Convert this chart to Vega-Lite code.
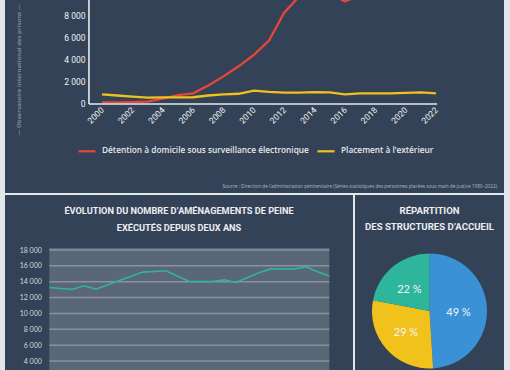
{
  "$schema": "https://vega.github.io/schema/vega-lite/v6.json",
  "background": "#e3e6ea",
  "padding": {"left": 5, "top": 0, "right": 6, "bottom": 0},
  "spacing": 2,
  "resolve": {"scale": {"color": "independent"}, "legend": {"color": "independent"}},
  "config": {
    "font": "Open Sans",
    "view": {"stroke": null, "fill": "#344257"},
    "axis": {"grid": false, "ticks": false, "domain": false, "labelFlush": false, "labelOverlap": false}
  },
  "datasets": {
    "top": [
      {"year": 2000, "serie": "Détention à domicile sous surveillance électronique", "value": 100},
      {"year": 2001, "serie": "Détention à domicile sous surveillance électronique", "value": 110},
      {"year": 2002, "serie": "Détention à domicile sous surveillance électronique", "value": 130},
      {"year": 2003, "serie": "Détention à domicile sous surveillance électronique", "value": 180},
      {"year": 2004, "serie": "Détention à domicile sous surveillance électronique", "value": 450},
      {"year": 2005, "serie": "Détention à domicile sous surveillance électronique", "value": 760},
      {"year": 2006, "serie": "Détention à domicile sous surveillance électronique", "value": 930},
      {"year": 2007, "serie": "Détention à domicile sous surveillance électronique", "value": 1650},
      {"year": 2008, "serie": "Détention à domicile sous surveillance électronique", "value": 2480},
      {"year": 2009, "serie": "Détention à domicile sous surveillance électronique", "value": 3400},
      {"year": 2010, "serie": "Détention à domicile sous surveillance électronique", "value": 4450},
      {"year": 2011, "serie": "Détention à domicile sous surveillance électronique", "value": 5750},
      {"year": 2012, "serie": "Détention à domicile sous surveillance électronique", "value": 8300},
      {"year": 2013, "serie": "Détention à domicile sous surveillance électronique", "value": 9800},
      {"year": 2014, "serie": "Détention à domicile sous surveillance électronique", "value": 10300},
      {"year": 2015, "serie": "Détention à domicile sous surveillance électronique", "value": 10100},
      {"year": 2016, "serie": "Détention à domicile sous surveillance électronique", "value": 9330},
      {"year": 2017, "serie": "Détention à domicile sous surveillance électronique", "value": 9900},
      {"year": 2018, "serie": "Détention à domicile sous surveillance électronique", "value": 10700},
      {"year": 2019, "serie": "Détention à domicile sous surveillance électronique", "value": 10800},
      {"year": 2020, "serie": "Détention à domicile sous surveillance électronique", "value": 10600},
      {"year": 2021, "serie": "Détention à domicile sous surveillance électronique", "value": 12600},
      {"year": 2022, "serie": "Détention à domicile sous surveillance électronique", "value": 14500},
      {"year": 2000, "serie": "Placement à l’extérieur", "value": 840},
      {"year": 2001, "serie": "Placement à l’extérieur", "value": 730},
      {"year": 2002, "serie": "Placement à l’extérieur", "value": 620},
      {"year": 2003, "serie": "Placement à l’extérieur", "value": 530},
      {"year": 2004, "serie": "Placement à l’extérieur", "value": 560},
      {"year": 2005, "serie": "Placement à l’extérieur", "value": 560},
      {"year": 2006, "serie": "Placement à l’extérieur", "value": 570},
      {"year": 2007, "serie": "Placement à l’extérieur", "value": 730},
      {"year": 2008, "serie": "Placement à l’extérieur", "value": 830},
      {"year": 2009, "serie": "Placement à l’extérieur", "value": 890},
      {"year": 2010, "serie": "Placement à l’extérieur", "value": 1180},
      {"year": 2011, "serie": "Placement à l’extérieur", "value": 1060},
      {"year": 2012, "serie": "Placement à l’extérieur", "value": 1000},
      {"year": 2013, "serie": "Placement à l’extérieur", "value": 1000},
      {"year": 2014, "serie": "Placement à l’extérieur", "value": 1040},
      {"year": 2015, "serie": "Placement à l’extérieur", "value": 1010},
      {"year": 2016, "serie": "Placement à l’extérieur", "value": 840},
      {"year": 2017, "serie": "Placement à l’extérieur", "value": 920},
      {"year": 2018, "serie": "Placement à l’extérieur", "value": 920},
      {"year": 2019, "serie": "Placement à l’extérieur", "value": 930},
      {"year": 2020, "serie": "Placement à l’extérieur", "value": 980},
      {"year": 2021, "serie": "Placement à l’extérieur", "value": 1010},
      {"year": 2022, "serie": "Placement à l’extérieur", "value": 930}
    ],
    "frame": [
      {"year": 1999.14, "year2": 2022.07, "value": -40, "value2": -40},
      {"year": 1999.14, "year2": 1999.14, "value": -40, "value2": 9461}
    ],
    "amenag": [
      {"i": 0, "value": 13265}, {"i": 1, "value": 13150}, {"i": 2, "value": 13050},
      {"i": 3, "value": 13490}, {"i": 4, "value": 13050}, {"i": 5, "value": 13620},
      {"i": 6, "value": 14165}, {"i": 7, "value": 14700}, {"i": 8, "value": 15215},
      {"i": 9, "value": 15290}, {"i": 10, "value": 15390}, {"i": 11, "value": 14700},
      {"i": 12, "value": 14025}, {"i": 13, "value": 14025}, {"i": 14, "value": 14025},
      {"i": 15, "value": 14250}, {"i": 16, "value": 13900}, {"i": 17, "value": 14545},
      {"i": 18, "value": 15150}, {"i": 19, "value": 15620}, {"i": 20, "value": 15620},
      {"i": 21, "value": 15620}, {"i": 22, "value": 15875}, {"i": 23, "value": 15250},
      {"i": 24, "value": 14735}
    ],
    "plotbg": [{"i": 0, "i2": 24, "value": 0, "value2": 18250}],
    "grid": [
      {"i": 0, "i2": 24, "value": 4000}, {"i": 0, "i2": 24, "value": 6000},
      {"i": 0, "i2": 24, "value": 8000}, {"i": 0, "i2": 24, "value": 10000},
      {"i": 0, "i2": 24, "value": 12000}, {"i": 0, "i2": 24, "value": 14000},
      {"i": 0, "i2": 24, "value": 16000}, {"i": 0, "i2": 24, "value": 18000}
    ],
    "panel": [{"px": 0, "px2": 1, "py": 0, "py2": 1}],
    "pie": [
      {"cat": "Structure A", "pct": 49, "ord": 1, "label": "49 %"},
      {"cat": "Structure B", "pct": 29, "ord": 2, "label": "29 %"},
      {"cat": "Structure C", "pct": 22, "ord": 3, "label": "22 %"}
    ]
  },
  "vconcat": [
    {
      "width": 499,
      "height": 193,
      "title": {
        "text": "Source : Direction de l’administration pénitentiaire (Séries statistiques des personnes placées sous main de justice 1980–2022)",
        "orient": "bottom", "anchor": "end", "frame": "group", "offset": -9, "dx": -7,
        "font": "Open Sans", "fontSize": 4.7, "fontWeight": "normal", "color": "#b3bac4"
      },
      "layer": [
        {
          "data": {"name": "top"},
          "mark": {"type": "line", "clip": true, "strokeWidth": 2.3},
          "encoding": {
            "x": {
              "field": "year", "type": "quantitative",
              "scale": {"domain": [1993.61, 2026.48], "nice": false, "zero": false},
              "axis": {
                "values": [2000, 2002, 2004, 2006, 2008, 2010, 2012, 2014, 2016, 2018, 2020, 2022],
                "format": "d", "offset": -89, "labelAngle": -45, "labelAlign": "right", "labelBaseline": "middle",
                "labelPadding": 4, "labelFont": "Roboto", "labelFontSize": 8.5, "labelColor": "#f2f2f2", "title": null
              }
            },
            "y": {
              "field": "value", "type": "quantitative",
              "scale": {"domain": [-8181, 9461], "nice": false, "zero": false},
              "axis": {
                "values": [0, 2000, 4000, 6000, 8000], "offset": -84, "labelPadding": 4,
                "labelExpr": "replace(format(datum.value, ','), ',', ' ')",
                "labelFont": "Roboto", "labelFontSize": 8.5, "labelColor": "#f2f2f2",
                "title": "— Observatoire international des prisons —",
                "titleX": -71, "titleY": 135, "titleAngle": -90, "titleAlign": "left", "titleBaseline": "middle",
                "titleFont": "Open Sans", "titleFontSize": 6, "titleFontWeight": "bold", "titleColor": "#7d8897"
              }
            },
            "color": {
              "field": "serie", "type": "nominal",
              "scale": {"domain": ["Détention à domicile sous surveillance électronique", "Placement à l’extérieur"], "range": ["#e9463a", "#f1c21b"]},
              "legend": {
                "orient": "none", "legendX": 72, "legendY": 141, "direction": "horizontal", "title": null,
                "symbolType": "stroke", "symbolStrokeWidth": 2.2, "symbolSize": 290,
                "labelFont": "Open Sans", "labelFontSize": 8.3, "labelFontWeight": 600, "labelColor": "#e8e8e8",
                "labelLimit": 400, "columnPadding": 4, "labelOffset": 5
              }
            }
          }
        },
        {
          "data": {"name": "frame"},
          "mark": {"type": "rule", "color": "#e6e9ee", "strokeWidth": 1.6, "clip": true},
          "encoding": {
            "x": {
              "field": "year", "type": "quantitative",
              "scale": {"domain": [1993.61, 2026.48], "nice": false, "zero": false},
              "axis": {
                "values": [2000, 2002, 2004, 2006, 2008, 2010, 2012, 2014, 2016, 2018, 2020, 2022],
                "format": "d", "offset": -89, "labelAngle": -45, "labelAlign": "right", "labelBaseline": "middle",
                "labelPadding": 4, "labelFont": "Roboto", "labelFontSize": 8.5, "labelColor": "#f2f2f2", "title": null
              }
            },
            "x2": {"field": "year2"},
            "y": {
              "field": "value", "type": "quantitative",
              "scale": {"domain": [-8181, 9461], "nice": false, "zero": false},
              "axis": {
                "values": [0, 2000, 4000, 6000, 8000], "offset": -84, "labelPadding": 4,
                "labelExpr": "replace(format(datum.value, ','), ',', ' ')",
                "labelFont": "Roboto", "labelFontSize": 8.5, "labelColor": "#f2f2f2",
                "title": "— Observatoire international des prisons —",
                "titleX": -71, "titleY": 135, "titleAngle": -90, "titleAlign": "left", "titleBaseline": "middle",
                "titleFont": "Open Sans", "titleFontSize": 6, "titleFontWeight": "bold", "titleColor": "#7d8897"
              }
            },
            "y2": {"field": "value2"}
          }
        }
      ]
    },
    {
      "hconcat": [
        {
          "width": 348,
          "height": 175,
          "title": {
            "text": ["ÉVOLUTION DU NOMBRE D’AMÉNAGEMENTS DE PEINE", "EXÉCUTÉS DEPUIS DEUX ANS"],
            "orient": "top", "anchor": "middle", "frame": "group", "offset": -38, "baseline": "top",
            "font": "Roboto", "fontSize": 9.2, "fontWeight": "bold",
            "color": "#eceef1", "lineHeight": 17
          },
          "layer": [
            {
              "data": {"name": "plotbg"},
              "mark": {"type": "rect", "color": "#5a6777", "clip": true},
              "encoding": {
                "x": {"field": "i", "type": "quantitative", "scale": {"domain": [-3.8, 26.03], "nice": false, "zero": false}, "axis": null},
                "x2": {"field": "i2"},
                "y": {
                  "field": "value", "type": "quantitative",
                  "scale": {"domain": [2865, 24937], "nice": false, "zero": false},
                  "axis": {
                    "values": [4000, 6000, 8000, 10000, 12000, 14000, 16000, 18000],
                    "offset": -44.3, "labelPadding": 8,
                    "labelExpr": "replace(format(datum.value, ','), ',', ' ')",
                    "labelFont": "Lato", "labelFontSize": 7, "labelColor": "#d3d8de", "title": null
                  }
                },
                "y2": {"field": "value2"}
              }
            },
            {
              "data": {"name": "grid"},
              "mark": {"type": "rule", "color": "#8793a0", "strokeWidth": 1.5},
              "encoding": {
                "x": {"field": "i", "type": "quantitative", "scale": {"domain": [-3.8, 26.03], "nice": false, "zero": false}, "axis": null},
                "x2": {"field": "i2"},
                "y": {
                  "field": "value", "type": "quantitative",
                  "scale": {"domain": [2865, 24937], "nice": false, "zero": false},
                  "axis": {
                    "values": [4000, 6000, 8000, 10000, 12000, 14000, 16000, 18000],
                    "offset": -44.3, "labelPadding": 8,
                    "labelExpr": "replace(format(datum.value, ','), ',', ' ')",
                    "labelFont": "Lato", "labelFontSize": 7, "labelColor": "#d3d8de", "title": null
                  }
                }
              }
            },
            {
              "data": {"name": "amenag"},
              "mark": {"type": "line", "color": "#2db69b", "strokeWidth": 1.6},
              "encoding": {
                "x": {"field": "i", "type": "quantitative", "scale": {"domain": [-3.8, 26.03], "nice": false, "zero": false}, "axis": null},
                "y": {
                  "field": "value", "type": "quantitative",
                  "scale": {"domain": [2865, 24937], "nice": false, "zero": false},
                  "axis": {
                    "values": [4000, 6000, 8000, 10000, 12000, 14000, 16000, 18000],
                    "offset": -44.3, "labelPadding": 8,
                    "labelExpr": "replace(format(datum.value, ','), ',', ' ')",
                    "labelFont": "Lato", "labelFontSize": 7, "labelColor": "#d3d8de", "title": null
                  }
                }
              }
            }
          ]
        },
        {
          "width": 149,
          "height": 175,
          "title": {
            "text": ["RÉPARTITION", "DES STRUCTURES D’ACCUEIL"],
            "orient": "top", "anchor": "middle", "frame": "group", "offset": -37, "baseline": "top",
            "font": "Roboto", "fontSize": 9.6, "fontWeight": "bold",
            "color": "#eceef1", "lineHeight": 16
          },
          "layer": [
            {
              "data": {"name": "panel"},
              "mark": {"type": "rect", "color": "#344257"},
              "encoding": {
                "x": {"field": "px", "type": "quantitative", "scale": {"domain": [0, 1], "nice": false}, "axis": null},
                "x2": {"field": "px2"},
                "y": {"field": "py", "type": "quantitative", "scale": {"domain": [0, 1], "nice": false}, "axis": null},
                "y2": {"field": "py2"}
              }
            },
            {
              "data": {"name": "pie"},
              "mark": {"type": "arc", "outerRadius": 57.5, "yOffset": 28.5},
              "encoding": {
                "theta": {"field": "pct", "type": "quantitative", "stack": true},
                "order": {"field": "ord", "type": "quantitative"},
                "color": {
                  "field": "cat", "type": "nominal",
                  "scale": {"domain": ["Structure A", "Structure B", "Structure C"], "range": ["#3b91d5", "#f1c21b", "#2db69b"]},
                  "legend": null
                }
              }
            },
            {
              "data": {"name": "pie"},
              "mark": {"type": "text", "radius": 30, "yOffset": 31, "xOffset": -1, "font": "Lato", "fontSize": 11, "color": "#f5f5f5"},
              "encoding": {
                "theta": {"field": "pct", "type": "quantitative", "stack": true},
                "order": {"field": "ord", "type": "quantitative"},
                "text": {"field": "label"}
              }
            }
          ]
        }
      ],
      "spacing": 2
    }
  ]
}
